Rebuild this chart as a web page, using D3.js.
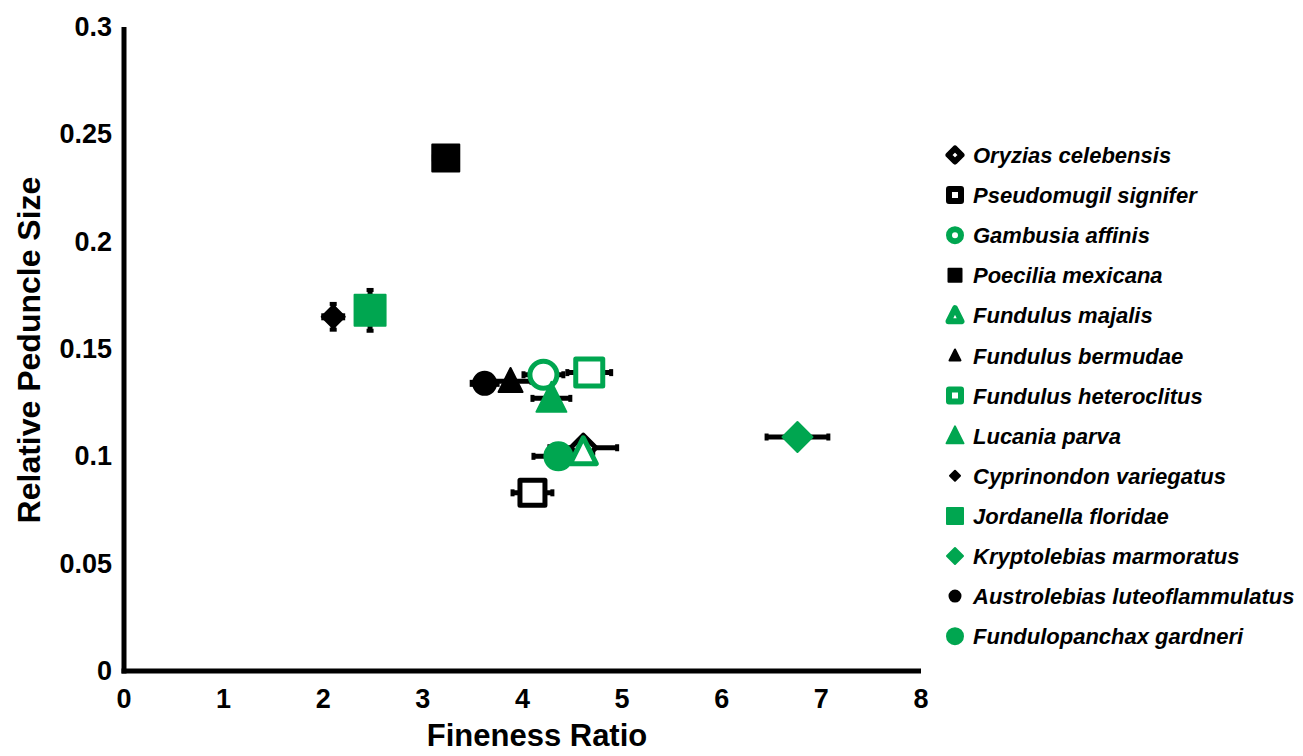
<!DOCTYPE html>
<html>
<head>
<meta charset="utf-8">
<script src="https://cdn.jsdelivr.net/npm/d3@7"></script>
<style>
  body { margin: 0; background: #fff; }
  text { font-family: "Liberation Sans", Arial, sans-serif; font-weight: bold; }
</style>
</head>
<body>
<svg id="chart" width="1303" height="756"></svg>
<script>
// species data
var species = ['Oryzias celebensis', 'Pseudomugil signifer', 'Gambusia affinis', 'Poecilia mexicana',
    'Fundulus majalis', 'Fundulus bermudae', 'Fundulus heteroclitus', 'Lucania parva',
    'Cyprinondon variegatus', 'Jordanella floridae', 'Kryptolebias marmoratus',
    'Austrolebias luteoflammulatus', 'Fundulopanchax gardneri'];
var fineness    = [4.61, 4.10, 4.21, 3.23, 4.61, 3.88, 4.67, 4.29, 2.10, 2.47, 6.76, 3.62, 4.36];
var finenessErr = [0.34, 0.20, 0.20, 0.12, 0.10, 0.21, 0.22, 0.19, 0.10, 0.10, 0.31, 0.13, 0.25];
var peduncle    = [0.104, 0.083, 0.138, 0.239, 0.102, 0.135, 0.139, 0.127, 0.165, 0.168, 0.109, 0.134, 0.100];
var peduncleErr = [0.002, 0.002, 0.002, 0.002, 0.002, 0.002, 0.002, 0.002, 0.006, 0.0095, 0.002, 0.002, 0.002];
var shapes = ['diamond', 'square', 'circle', 'square', 'triangle', 'triangle', 'square', 'triangle',
    'diamond', 'square', 'diamond', 'circle', 'circle'];
var isOpen = [true, true, true, false, true, false, true, false, false, false, false, false, false];
var isGreen = [false, false, true, false, true, false, true, true, false, true, true, false, true];
var plotSize   = [30, 30, 32, 29, 31, 26, 32, 32, 25, 33, 32, 25, 30];
var legendSize = [19, 18, 18, 15, 19, 13, 18, 19, 12, 18, 18, 13, 18];
var xTicks = [0, 1, 2, 3, 4, 5, 6, 7, 8];
var yTicks = [0, 0.05, 0.1, 0.15, 0.2, 0.25, 0.3];

var GREEN = '#00a650';
var svg = d3.select('#chart');

var x = d3.scaleLinear().domain([0, 8]).range([124, 921]);
var y = d3.scaleLinear().domain([0, 0.3]).range([671, 27]);

function shapePath(type, s) {
    var h = s / 2;
    if (type === 'square') {
        return 'M' + (-h) + ',' + (-h) + 'H' + h + 'V' + h + 'H' + (-h) + 'Z';
    } else if (type === 'diamond') {
        return 'M0,' + (-h) + 'L' + h + ',0L0,' + h + 'L' + (-h) + ',0Z';
    } else if (type === 'triangle') {
        return 'M0,' + (-s * 0.55) + 'L' + h + ',' + (s * 0.45) + 'L' + (-h) + ',' + (s * 0.45) + 'Z';
    }
    return d3.symbol().type(d3.symbolCircle).size(Math.PI * h * h)();
}

function drawMarker(g, i, s, sw) {
    var col = isGreen[i] ? GREEN : '#000';
    if (isOpen[i]) {
        g.append('path')
            .attr('d', shapePath(shapes[i], s - sw))
            .attr('fill', '#fff')
            .attr('stroke', col)
            .attr('stroke-width', sw)
            .attr('stroke-linejoin', 'round');
    } else {
        g.append('path')
            .attr('d', shapePath(shapes[i], s - 2))
            .attr('fill', col)
            .attr('stroke', col)
            .attr('stroke-width', 2)
            .attr('stroke-linejoin', 'round');
    }
}

// axes
var axes = svg.append('g');
axes.append('line')
    .attr('x1', x(0)).attr('x2', x(0))
    .attr('y1', y(0.3)).attr('y2', y(0) + 2.5)
    .attr('stroke', '#000').attr('stroke-width', 5);
axes.append('line')
    .attr('x1', x(0) - 2.5).attr('x2', x(8))
    .attr('y1', y(0)).attr('y2', y(0))
    .attr('stroke', '#000').attr('stroke-width', 5);

axes.selectAll('.xtick')
    .data(xTicks)
  .enter()
  .append('text')
    .attr('class', 'xtick')
    .attr('x', function(d) { return x(d); })
    .attr('y', 708)
    .attr('text-anchor', 'middle')
    .attr('font-size', 27)
    .text(function(d) { return d; });

axes.selectAll('.ytick')
    .data(yTicks)
  .enter()
  .append('text')
    .attr('class', 'ytick')
    .attr('x', 112)
    .attr('y', function(d) { return y(d) + 9; })
    .attr('text-anchor', 'end')
    .attr('font-size', 27)
    .text(function(d) { return d; });

axes.append('text')
    .attr('x', 537).attr('y', 746)
    .attr('text-anchor', 'middle')
    .attr('font-size', 31)
    .text('Fineness Ratio');

axes.append('text')
    .attr('transform', 'translate(40,350) rotate(-90)')
    .attr('text-anchor', 'middle')
    .attr('font-size', 32)
    .text('Relative Peduncle Size');

// error bars underneath the markers
var bars = svg.append('g');
species.forEach(function(name, i) {
    var cx = x(fineness[i]), cy = y(peduncle[i]);
    var x0 = x(fineness[i] - finenessErr[i]), x1 = x(fineness[i] + finenessErr[i]);
    var y0 = y(peduncle[i] - peduncleErr[i]), y1 = y(peduncle[i] + peduncleErr[i]);
    bars.append('line')
        .attr('x1', x0).attr('x2', x1).attr('y1', cy).attr('y2', cy)
        .attr('stroke', '#000').attr('stroke-width', 5);
    bars.append('line')
        .attr('x1', cx).attr('x2', cx).attr('y1', y0).attr('y2', y1)
        .attr('stroke', '#000').attr('stroke-width', 5);
    [x0, x1].forEach(function(ex) {
        bars.append('rect')
            .attr('x', ex - 2).attr('y', cy - 3.5)
            .attr('width', 4).attr('height', 7)
            .attr('fill', '#000');
    });
    [y0, y1].forEach(function(ey) {
        bars.append('rect')
            .attr('x', cx - 3.5).attr('y', ey - 2)
            .attr('width', 7).attr('height', 4)
            .attr('fill', '#000');
    });
});

// markers
var marks = svg.append('g');
species.forEach(function(name, i) {
    var g = marks.append('g')
        .attr('transform', 'translate(' + x(fineness[i]) + ',' + y(peduncle[i]) + ')');
    drawMarker(g, i, plotSize[i], 5);
});

// legend
var legend = svg.selectAll('.legend-item')
    .data(species)
  .enter()
  .append('g')
    .attr('class', 'legend-item')
    .attr('transform', function(d, i) { return 'translate(955,' + (155 + i * 40.1) + ')'; });

legend.each(function(d, i) {
    drawMarker(d3.select(this), i, legendSize[i], 6);
});

legend.append('text')
    .attr('x', 18)
    .attr('y', 8)
    .attr('font-size', 22)
    .attr('font-style', 'italic')
    .text(function(d) { return d; });
</script>
</body>
</html>
